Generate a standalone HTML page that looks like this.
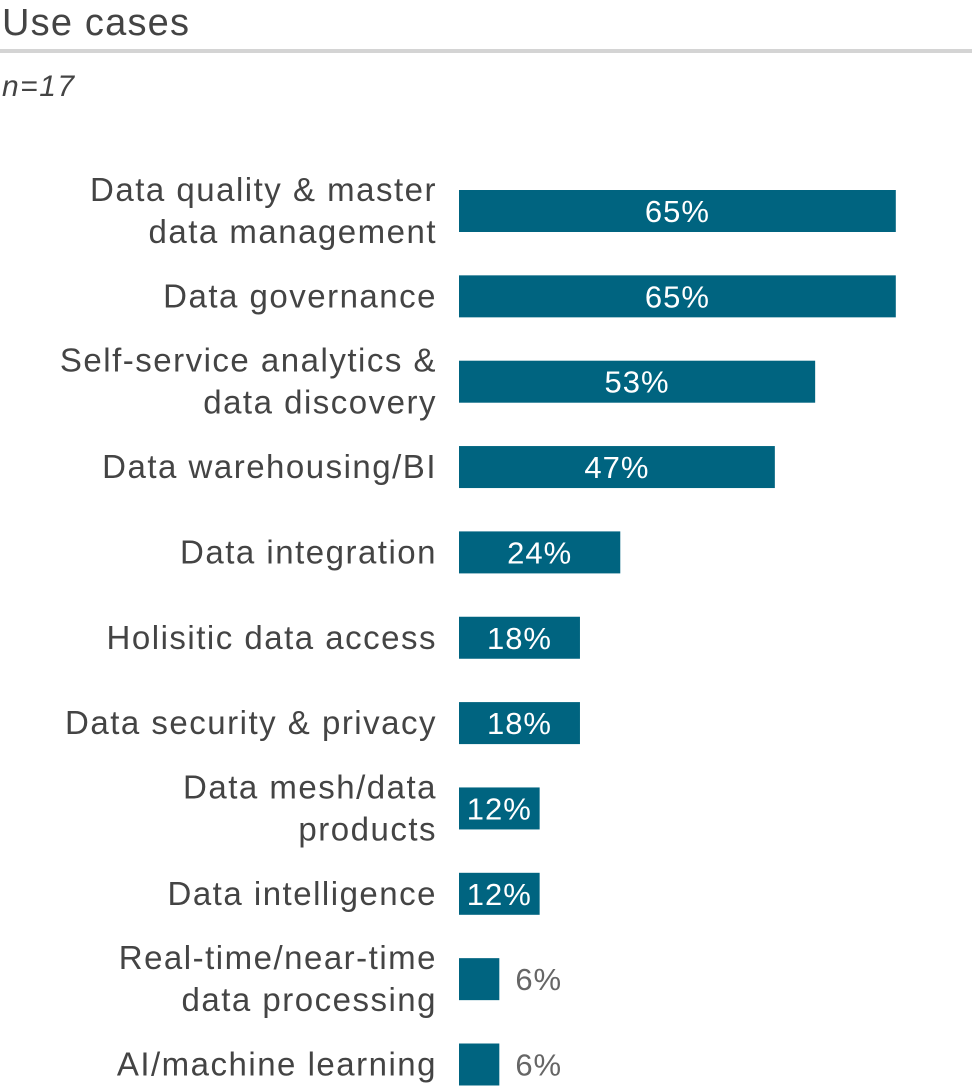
<!DOCTYPE html>
<html><head><meta charset="utf-8"><style>
html,body{margin:0;padding:0;background:#fff;}
svg{display:block;font-family:"Liberation Sans",sans-serif;}
</style></head><body>
<svg id="chart" width="972" height="1087" viewBox="0 0 972 1087">
<text x="2" y="35" font-size="38" letter-spacing="1.2" fill="#444">Use cases</text>
<rect x="0" y="49" width="972" height="4" fill="#d4d4d4"/>
<text x="2" y="96" font-size="30" letter-spacing="1.5" font-style="italic" fill="#444">n=17</text>
<g id="bars"></g>
</svg>
<script>
const categories = [
  ["Data quality & master","data management"],
  ["Data governance"],
  ["Self-service analytics &","data discovery"],
  ["Data warehousing/BI"],
  ["Data integration"],
  ["Holisitic data access"],
  ["Data security & privacy"],
  ["Data mesh/data","products"],
  ["Data intelligence"],
  ["Real-time/near-time","data processing"],
  ["AI/machine learning"]
];
const values = [65,65,53,47,24,18,18,12,12,6,6];
const valueLabels = ["65%","65%","53%","47%","24%","18%","18%","12%","12%","6%","6%"];

const NS = "http://www.w3.org/2000/svg";
const x0 = 459, pxPerPct = 6.72;
const xScale = v => v * pxPerPct;
const yCenter = i => 211 + i * 85.35;
const barH = 42;
const g = document.getElementById("bars");
function mk(tag, attrs){const e=document.createElementNS(NS,tag);for(const k in attrs)e.setAttribute(k,attrs[k]);return e;}

values.forEach((v,i)=>{
  const cy = yCenter(i);
  const w = xScale(v);
  const r = mk("rect",{x:x0,y:cy-barH/2,width:w,height:barH,fill:"#006480"});
  
  
  g.appendChild(r);
  const inside = w > 60;
  const t = mk("text",{x: inside ? x0+w/2 : x0+w+16, y: cy+11, "font-size":31, "letter-spacing":1,
    fill: inside ? "#fff" : "#666", "text-anchor": inside ? "middle" : "start"});
  t.textContent = valueLabels[i];
  
  
  g.appendChild(t);
  const lines = categories[i];
  lines.forEach((ln,j)=>{
    const off = lines.length===1 ? 0 : (j===0 ? -21 : 21);
    const c = mk("text",{x:437,y:cy+off+11,"font-size":33,"letter-spacing":1.5,fill:"#444","text-anchor":"end"});
    c.textContent = ln;
    
    
    g.appendChild(c);
  });
});
</script>
</body></html>
